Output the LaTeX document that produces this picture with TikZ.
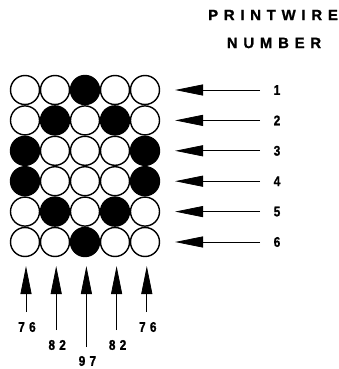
\documentclass[tikz,border=0pt]{standalone}
\usepackage{fontspec}
\setmainfont{Liberation Sans}
\newfontfamily\lblfont[LetterSpace=30,FakeStretch=0.85,FakeBold=1]{Liberation Sans}
\newfontfamily\ttlfont[LetterSpace=38,FakeBold=1]{Liberation Sans}
\usetikzlibrary{arrows.meta}
\begin{document}
\begin{tikzpicture}[x=1pt,y=-1pt,
  dot/.style={circle,draw,line width=1.4pt,minimum size=29pt,inner sep=0pt},
  on/.style={dot,fill=black},
  off/.style={dot,fill=white},
  ptr/.style={line width=0.8pt,-{Triangle[length=28pt,width=11pt]}},
  lbl/.style={font=\lblfont\bfseries\fontsize{14}{14}\selectfont,inner sep=0pt},
  ttl/.style={font=\ttlfont\bfseries\fontsize{15}{16}\selectfont,inner sep=0pt}]
\useasboundingbox (0,0) rectangle (338,369);
% grid pattern (1 = black)
\foreach \r/\row in {1/{0,0,1,0,0},2/{0,1,0,1,0},3/{1,0,0,0,1},4/{1,0,0,0,1},5/{0,1,0,1,0},6/{0,0,1,0,0}}{
  \foreach \v [count=\c] in \row {
    \ifnum\v=1
      \node[on] (c\r\c) at ({25+30*(\c-1)},{90+30.4*(\r-1)}) {};
    \else
      \node[off] (c\r\c) at ({25+30*(\c-1)},{90+30.4*(\r-1)}) {};
    \fi
  }
}
\node[ttl] (t1) at (273,15) {PRINTWIRE};
\node[ttl] (t2) at (274,43) {NUMBER};
% row arrows
\foreach \r in {1,...,6}{
  \coordinate (rt\r) at (260,{90+30.4*(\r-1)});
  \coordinate (rh\r) at (175,{90+30.4*(\r-1)});
  \node[lbl] (rl\r) at (277,{90+30.4*(\r-1)}) {\r};
  \draw[ptr] (rt\r) -- (rh\r);
}
% column arrows
\foreach \c/\tail/\ly/\txt in {1/312/327/76,2/330/345/82,3/347/361/97,4/330/345/82,5/312/327/76}{
  \coordinate (ct\c) at ({26+30.2*(\c-1)},\tail);
  \coordinate (ch\c) at ({26+30.2*(\c-1)},266);
  \node[lbl] (cl\c) at ({27+30.2*(\c-1)},\ly) {\txt};
  \draw[ptr] (ct\c) -- (ch\c);
}
\end{tikzpicture}
\end{document}
